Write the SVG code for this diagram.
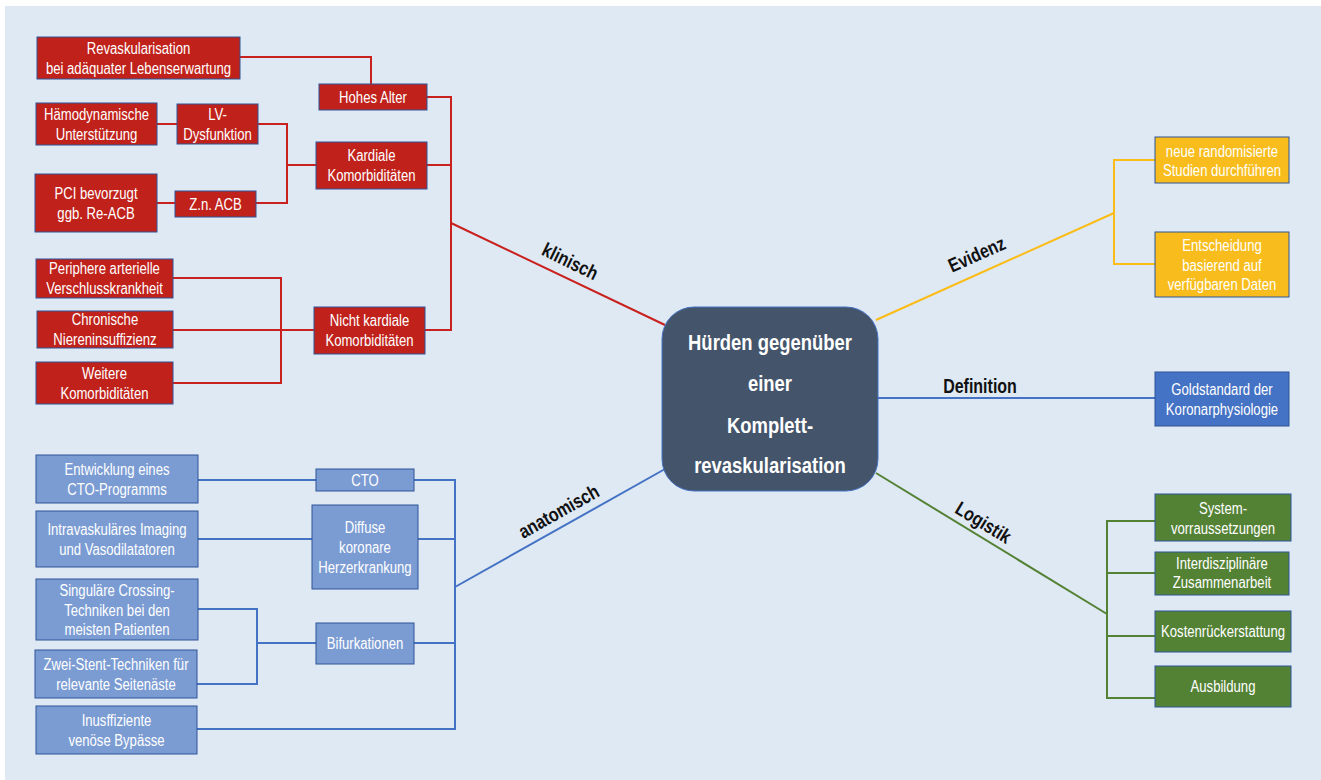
<svg xmlns="http://www.w3.org/2000/svg" width="1321" height="780" viewBox="0 0 1321 780">
<style>
.bx{stroke:#2f5597;stroke-width:1}
.r{fill:#c0221b}
.lb{fill:#7b9cd3}
.y{fill:#f8bd1c}
.db{fill:#4472c4}
.g{fill:#548235}
.t{font-family:"Liberation Sans",Arial,sans-serif;font-size:16px;fill:#ffffff;text-anchor:middle}
.ctr{font-family:"Liberation Sans",Arial,sans-serif;font-size:22.5px;font-weight:bold;fill:#ffffff;text-anchor:middle}
.lab{font-family:"Liberation Sans",Arial,sans-serif;font-size:19.5px;font-weight:bold;fill:#111111;text-anchor:middle}
.cr{fill:none;stroke:#c9211e;stroke-width:2}
.cb{fill:none;stroke:#4472c4;stroke-width:2}
.cy{fill:none;stroke:#fbbc18;stroke-width:2}
.cg{fill:none;stroke:#548235;stroke-width:2}
</style>
<rect x="0" y="0" width="1321" height="780" fill="#ffffff"/>
<rect x="5" y="6" width="1316" height="774" fill="#dfe9f4"/>
<g id="connectors">
<polyline class="cr" points="240,57 371,57 371,84"/>
<polyline class="cr" points="427,97 451,97 451,330 425,330"/>
<line class="cr" x1="427" y1="165" x2="451" y2="165"/>
<line class="cr" x1="451" y1="223" x2="665" y2="325"/>
<line class="cr" x1="157" y1="124" x2="177" y2="124"/>
<polyline class="cr" points="258,124 287,124 287,203 256,203"/>
<line class="cr" x1="287" y1="165" x2="316" y2="165"/>
<line class="cr" x1="157" y1="203" x2="175" y2="203"/>
<polyline class="cr" points="173,278 281,278 281,383 173,383"/>
<line class="cr" x1="173" y1="330" x2="314" y2="330"/>
<line class="cb" x1="198" y1="480" x2="316" y2="480"/>
<polyline class="cb" points="414,480 455,480 455,729 197,729"/>
<line class="cb" x1="198" y1="539" x2="312" y2="539"/>
<line class="cb" x1="418" y1="539" x2="455" y2="539"/>
<polyline class="cb" points="198,609 257,609 257,684 197,684"/>
<line class="cb" x1="257" y1="643" x2="316" y2="643"/>
<line class="cb" x1="414" y1="643" x2="455" y2="643"/>
<line class="cb" x1="455" y1="587" x2="665" y2="469"/>
<line class="cy" x1="876" y1="320" x2="1114" y2="213"/>
<polyline class="cy" points="1155,160 1114,160 1114,264 1155,264"/>
<line class="cb" x1="878" y1="398" x2="1155" y2="398"/>
<line class="cg" x1="876" y1="473" x2="1107" y2="614"/>
<polyline class="cg" points="1155,521 1107,521 1107,698 1155,698"/>
<line class="cg" x1="1107" y1="573" x2="1155" y2="573"/>
<line class="cg" x1="1107" y1="636" x2="1155" y2="636"/>
<text class="lab" transform="translate(570,262) rotate(26) scale(.82,1)" y="6">klinisch</text>
<text class="lab" transform="translate(559,512) rotate(-29.3) scale(.82,1)" y="6">anatomisch</text>
<text class="lab" transform="translate(977,255) rotate(-24.2) scale(.82,1)" y="6">Evidenz</text>
<text class="lab" transform="translate(980,393) scale(.82,1)">Definition</text>
<text class="lab" transform="translate(983,523) rotate(31.4) scale(.82,1)" y="6">Logistik</text>
</g>
<g id="center">
<rect x="662" y="307" width="216" height="184" rx="32" fill="#44546a" stroke="#4472c4" stroke-width="1"/>
<text class="ctr" transform="translate(770,350) scale(.82,1)">Hürden gegenüber</text>
<text class="ctr" transform="translate(770,391) scale(.82,1)">einer</text>
<text class="ctr" transform="translate(770,433) scale(.82,1)">Komplett-</text>
<text class="ctr" transform="translate(770,473) scale(.82,1)">revaskularisation</text>
</g>
<g id="n-rev"><rect class="bx r" x="37" y="37" width="203" height="42"/><text class="t" transform="translate(138.5,53.5) scale(.82,1)">Revaskularisation</text><text class="t" transform="translate(138.5,73.5) scale(.82,1)">bei adäquater Lebenserwartung</text></g>
<g id="n-hohes"><rect class="bx r" x="319" y="84" width="108" height="26"/><text class="t" transform="translate(373,102.5) scale(.82,1)">Hohes Alter</text></g>
<g id="n-haemo"><rect class="bx r" x="36" y="103" width="121" height="42"/><text class="t" transform="translate(96.5,119.5) scale(.82,1)">Hämodynamische</text><text class="t" transform="translate(96.5,139.5) scale(.82,1)">Unterstützung</text></g>
<g id="n-lv"><rect class="bx r" x="177" y="104" width="81" height="40"/><text class="t" transform="translate(217.5,119.5) scale(.82,1)">LV-</text><text class="t" transform="translate(217.5,139.5) scale(.82,1)">Dysfunktion</text></g>
<g id="n-kardiale"><rect class="bx r" x="316" y="142" width="111" height="47"/><text class="t" transform="translate(371.5,161) scale(.82,1)">Kardiale</text><text class="t" transform="translate(371.5,181) scale(.82,1)">Komorbiditäten</text></g>
<g id="n-pci"><rect class="bx r" x="35" y="174" width="122" height="58"/><text class="t" transform="translate(96,199) scale(.82,1)">PCI bevorzugt</text><text class="t" transform="translate(96,219) scale(.82,1)">ggb. Re-ACB</text></g>
<g id="n-zn"><rect class="bx r" x="175" y="191" width="81" height="26"/><text class="t" transform="translate(215.5,209.5) scale(.82,1)">Z.n. ACB</text></g>
<g id="n-periphere"><rect class="bx r" x="36" y="259" width="137" height="39"/><text class="t" transform="translate(104.5,274) scale(.82,1)">Periphere arterielle</text><text class="t" transform="translate(104.5,294) scale(.82,1)">Verschlusskrankheit</text></g>
<g id="n-chronische"><rect class="bx r" x="37" y="311" width="136" height="37"/><text class="t" transform="translate(105,325) scale(.82,1)">Chronische</text><text class="t" transform="translate(105,345) scale(.82,1)">Niereninsuffizienz</text></g>
<g id="n-weitere"><rect class="bx r" x="36" y="362" width="137" height="42"/><text class="t" transform="translate(104.5,378.5) scale(.82,1)">Weitere</text><text class="t" transform="translate(104.5,398.5) scale(.82,1)">Komorbiditäten</text></g>
<g id="n-nicht"><rect class="bx r" x="314" y="307" width="111" height="47"/><text class="t" transform="translate(369.5,326) scale(.82,1)">Nicht kardiale</text><text class="t" transform="translate(369.5,346) scale(.82,1)">Komorbiditäten</text></g>
<g id="n-entw"><rect class="bx lb" x="36" y="455" width="162" height="48"/><text class="t" transform="translate(117,474.5) scale(.82,1)">Entwicklung eines</text><text class="t" transform="translate(117,494.5) scale(.82,1)">CTO-Programms</text></g>
<g id="n-intra"><rect class="bx lb" x="36" y="511" width="162" height="56"/><text class="t" transform="translate(117,534.5) scale(.82,1)">Intravaskuläres Imaging</text><text class="t" transform="translate(117,554.5) scale(.82,1)">und Vasodilatatoren</text></g>
<g id="n-sing"><rect class="bx lb" x="36" y="579" width="162" height="61"/><text class="t" transform="translate(117,595.5) scale(.82,1)">Singuläre Crossing-</text><text class="t" transform="translate(117,615.5) scale(.82,1)">Techniken bei den</text><text class="t" transform="translate(117,635) scale(.82,1)">meisten Patienten</text></g>
<g id="n-zwei"><rect class="bx lb" x="35" y="650" width="162" height="48"/><text class="t" transform="translate(116,669.5) scale(.82,1)">Zwei-Stent-Techniken für</text><text class="t" transform="translate(116,689.5) scale(.82,1)">relevante Seitenäste</text></g>
<g id="n-insuf"><rect class="bx lb" x="36" y="706" width="161" height="48"/><text class="t" transform="translate(116.5,725.5) scale(.82,1)">Inusffiziente</text><text class="t" transform="translate(116.5,745.5) scale(.82,1)">venöse Bypässe</text></g>
<g id="n-cto"><rect class="bx lb" x="316" y="469" width="98" height="22"/><text class="t" transform="translate(365,485.5) scale(.82,1)">CTO</text></g>
<g id="n-diffuse"><rect class="bx lb" x="312" y="505" width="106" height="84"/><text class="t" transform="translate(365,532.5) scale(.82,1)">Diffuse</text><text class="t" transform="translate(365,552.5) scale(.82,1)">koronare</text><text class="t" transform="translate(365,572.5) scale(.82,1)">Herzerkrankung</text></g>
<g id="n-bifurk"><rect class="bx lb" x="316" y="623" width="98" height="41"/><text class="t" transform="translate(365,649) scale(.82,1)">Bifurkationen</text></g>
<g id="n-neue"><rect class="bx y" x="1155" y="137" width="134" height="46"/><text class="t" transform="translate(1222,156.5) scale(.82,1)">neue randomisierte</text><text class="t" transform="translate(1222,175.5) scale(.82,1)">Studien durchführen</text></g>
<g id="n-entsch"><rect class="bx y" x="1155" y="232" width="134" height="65"/><text class="t" transform="translate(1222,251) scale(.82,1)">Entscheidung</text><text class="t" transform="translate(1222,270.5) scale(.82,1)">basierend auf</text><text class="t" transform="translate(1222,290) scale(.82,1)">verfügbaren Daten</text></g>
<g id="n-gold"><rect class="bx db" x="1155" y="372" width="134" height="54"/><text class="t" transform="translate(1222,395) scale(.82,1)">Goldstandard der</text><text class="t" transform="translate(1222,415) scale(.82,1)">Koronarphysiologie</text></g>
<g id="n-system"><rect class="bx g" x="1155" y="494" width="136" height="47"/><text class="t" transform="translate(1223,514) scale(.82,1)">System-</text><text class="t" transform="translate(1223,534) scale(.82,1)">vorraussetzungen</text></g>
<g id="n-inter"><rect class="bx g" x="1155" y="552" width="134" height="43"/><text class="t" transform="translate(1222,569) scale(.82,1)">Interdisziplinäre</text><text class="t" transform="translate(1222,588) scale(.82,1)">Zusammenarbeit</text></g>
<g id="n-kosten"><rect class="bx g" x="1155" y="611" width="136" height="41"/><text class="t" transform="translate(1223,636.5) scale(.82,1)">Kostenrückerstattung</text></g>
<g id="n-ausb"><rect class="bx g" x="1155" y="666" width="136" height="41"/><text class="t" transform="translate(1223,691.5) scale(.82,1)">Ausbildung</text></g>
</svg>
